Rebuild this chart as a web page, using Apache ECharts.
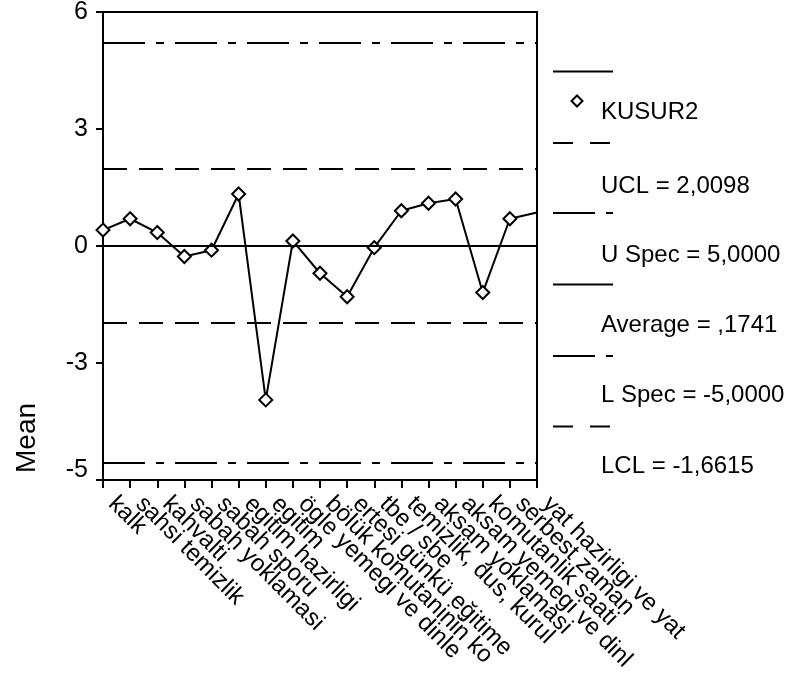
<!DOCTYPE html>
<html>
<head>
<meta charset="utf-8">
<script src="https://cdn.jsdelivr.net/npm/echarts@6/dist/echarts.min.js"></script>
<style>
  html, body { margin: 0; padding: 0; background: #fff; }
  #chart { width: 794px; height: 679px; }
</style>
</head>
<body>
<div id="chart"></div>
<script>
// Daily routine steps (x categories)
const categories = [
  'kalk', 'sahsi temizlik', 'kahvalti', 'sabah yoklamasi', 'sabah sporu',
  'egitim hazirligi', 'egitim', 'ögle yemegi ve dinle', 'bölük komutaninin ko',
  'ertesi günkü eğitime', 'tbe / sbe', 'temizlik, dus, kurul', 'aksam yoklamasi',
  'aksam yemegi ve dinl', 'komutanlik saati', 'serbest zaman', 'yat hazirligi ve yat'
];

// Mean of KUSUR2 per step
const kusur2 = [0.54, 0.81, 0.48, -0.09, 0.06, 1.40, -3.51, 0.28, -0.49,
                -1.05, 0.12, 1.00, 1.18, 1.28, -0.95, 0.81, 0.96];

// Control and specification limits
const ucl = 2.0098;
const uSpec = 5.0;
const average = 0.1741;
const lSpec = -5.0;
const lcl = -1.6615;

// Value-axis range and the rounded labels printed at its five ticks
const yRange = [-5.42, 5.74];
const yTickLabels = ['-5', '-3', '0', '3', '6'];

const FONT = '"Liberation Sans", Arial, Helvetica, sans-serif';
const DASHED = [24, 12];
const DASH_DOT = [42, 11, 8, 11];

// SPSS-style number: comma decimal, no leading zero
function fmt(v) {
  const s = v.toFixed(4).replace('.', ',');
  return s.replace(/^0,/, ',').replace(/^-0,/, '-,');
}

const yStep = (yRange[1] - yRange[0]) / 4;

const chart = echarts.init(document.getElementById('chart'), null, { renderer: 'canvas' });

// last point sits on the frame and carries no marker
const seriesData = kusur2.map((v, i) =>
  i === kusur2.length - 1 ? { value: v, symbol: 'none' } : v);

function limitLine(value, type) {
  return { yAxis: value, lineStyle: { color: '#000', width: 2, type: type } };
}

// Legend: line samples sit above their captions
const legendX1 = 553, legendX2 = 613, textX = 601;
const legendRows = [
  { lineY: 71.5,  dash: null,            caption: 'KUSUR2',                    textY: 112, marker: true },
  { lineY: 143,   dash: [20, 17],        caption: 'UCL = ' + fmt(ucl),         textY: 186 },
  { lineY: 213,   dash: [42, 11, 7, 20], caption: 'U Spec = ' + fmt(uSpec),    textY: 255 },
  { lineY: 284.5, dash: null,            caption: 'Average = ' + fmt(average), textY: 325 },
  { lineY: 356,   dash: [42, 11, 7, 20], caption: 'L Spec = ' + fmt(lSpec),    textY: 395 },
  { lineY: 426.5, dash: [20, 17],        caption: 'LCL = ' + fmt(lcl),         textY: 466 }
];

const graphics = [];
legendRows.forEach(r => {
  graphics.push({
    type: 'line',
    shape: { x1: legendX1, y1: r.lineY, x2: legendX2, y2: r.lineY },
    style: { stroke: '#000', lineWidth: 2, lineDash: r.dash || null }
  });
  graphics.push({
    type: 'text',
    style: { text: r.caption, x: textX, y: r.textY, font: '24px ' + FONT,
             fill: '#000', align: 'left', verticalAlign: 'middle' }
  });
  if (r.marker) {
    const cx = 577, cy = 101, h = 5.5;
    graphics.push({
      type: 'polygon',
      shape: { points: [[cx, cy - h], [cx + h, cy], [cx, cy + h], [cx - h, cy]] },
      style: { fill: '#fff', stroke: '#000', lineWidth: 2 }
    });
  }
});

// Axis title
graphics.push({
  type: 'text',
  x: 27, y: 438, rotation: Math.PI / 2,
  style: { text: 'Mean', font: '28px ' + FONT, fill: '#000',
           align: 'center', verticalAlign: 'middle' }
});

chart.setOption({
  animation: false,
  backgroundColor: '#fff',
  grid: {
    left: 103, top: 12, width: 434, height: 468,
    show: true, borderColor: '#000', borderWidth: 2,
    containLabel: false, outerBoundsMode: 'none'
  },
  xAxis: {
    type: 'category',
    data: categories,
    boundaryGap: false,
    axisLine: { onZero: false, lineStyle: { color: '#000', width: 2 } },
    axisTick: { show: true, interval: 0, length: 8, lineStyle: { color: '#000', width: 2 } },
    axisLabel: {
      interval: 0, rotate: -45, margin: 11, padding: [0, 0, 0, 13],
      color: '#000', fontSize: 24, fontFamily: FONT
    },
    splitLine: { show: false }
  },
  yAxis: {
    type: 'value',
    min: yRange[0],
    max: yRange[0] + 4 * yStep,
    interval: yStep,
    axisLine: { show: true, onZero: false, lineStyle: { color: '#000', width: 2 } },
    axisTick: { show: true, length: 7, lineStyle: { color: '#000', width: 2 } },
    splitLine: { show: false },
    axisLabel: {
      margin: 15, color: '#000', fontSize: 25, fontFamily: FONT,
      formatter: (v, i) => i === 0 ? '{low|' + yTickLabels[i] + '}' : yTickLabels[i],
      rich: { low: { fontSize: 25, fontFamily: FONT, color: '#000', padding: [0, 0, 20, 0] } }
    }
  },
  series: [{
    name: 'KUSUR2',
    type: 'line',
    data: seriesData,
    symbol: 'diamond',
    symbolSize: 13,
    showAllSymbol: true,
    lineStyle: { color: '#000', width: 2 },
    itemStyle: { color: '#fff', borderColor: '#000', borderWidth: 2 },
    z: 3,
    markLine: {
      silent: true,
      symbol: ['none', 'none'],
      label: { show: false },
      data: [
        limitLine(uSpec, DASH_DOT),
        limitLine(ucl, DASHED),
        limitLine(average, 'solid'),
        limitLine(lcl, DASHED),
        limitLine(lSpec, DASH_DOT)
      ]
    }
  }],
  graphic: graphics
});
</script>
</body>
</html>
